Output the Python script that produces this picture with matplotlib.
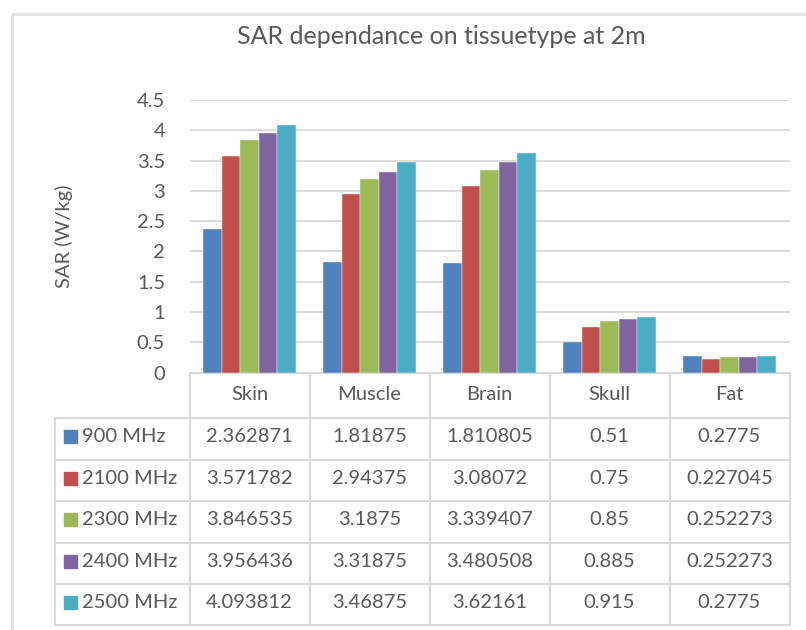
import matplotlib
matplotlib.use("Agg")
import matplotlib.pyplot as plt
import numpy as np
from matplotlib.patches import Rectangle

# ---- data ----
categories = ["Skin", "Muscle", "Brain", "Skull", "Fat"]
series_names = ["900 MHz", "2100 MHz", "2300 MHz", "2400 MHz", "2500 MHz"]
s900 = [2.362871, 1.81875, 1.810805, 0.51, 0.2775]
s2100 = [3.571782, 2.94375, 3.08072, 0.75, 0.227045]
s2300 = [3.846535, 3.1875, 3.339407, 0.85, 0.252273]
s2400 = [3.956436, 3.31875, 3.480508, 0.885, 0.252273]
s2500 = [4.093812, 3.46875, 3.62161, 0.915, 0.2775]
series_values = [s900, s2100, s2300, s2400, s2500]
table_text = [
    ["2.362871", "1.81875", "1.810805", "0.51", "0.2775"],
    ["3.571782", "2.94375", "3.08072", "0.75", "0.227045"],
    ["3.846535", "3.1875", "3.339407", "0.85", "0.252273"],
    ["3.956436", "3.31875", "3.480508", "0.885", "0.252273"],
    ["4.093812", "3.46875", "3.62161", "0.915", "0.2775"],
]
yticks = [0, 0.5, 1, 1.5, 2, 2.5, 3, 3.5, 4, 4.5]
ytick_labels = ["0", "0.5", "1", "1.5", "2", "2.5", "3", "3.5", "4", "4.5"]
title = "SAR dependance on tissuetype at 2m"
ylabel = "SAR (W/kg)"

colors = ["#4F81BD", "#C0504D", "#9BBB59", "#8064A2", "#4BACC6"]
text_color = "#595959"
grid_color = "#D9D9D9"
FONT = "Lato"
FS = 14.5

W, H = 806, 630
fig = plt.figure(figsize=(W / 100, H / 100), dpi=100)

# overlay in pixel coords (y from top)
ov = fig.add_axes([0, 0, 1, 1])
ov.set_xlim(0, W)
ov.set_ylim(H, 0)
ov.axis("off")
ov.add_patch(Rectangle((12, 14), W + 20, H + 20, fill=False, edgecolor="#E3E3E3", lw=2.2))

# bar axes
x0, x1, ytop, ybot = 189.5, 789.5, 100, 372.5
ax = fig.add_axes([x0 / W, (H - ybot) / H, (x1 - x0) / W, (ybot - ytop) / H])
ax.set_xlim(-0.5, len(categories) - 0.5)
ax.set_ylim(0, 4.5)
ax.patch.set_alpha(0)
for s in ax.spines.values():
    s.set_visible(False)
ax.set_yticks(yticks)
ax.set_yticklabels(ytick_labels, fontfamily=FONT, fontsize=FS, color=text_color)
ax.tick_params(axis="y", length=0, pad=17.6)
ax.set_xticks([])
ax.yaxis.grid(True, color=grid_color, lw=1.3)
ax.set_axisbelow(True)

x = np.arange(len(categories))
bw = 0.154
for i, (vals, c) in enumerate(zip(series_values, colors)):
    ax.bar(x + (i - 2) * bw, vals, width=bw, color=c, edgecolor="white", lw=0.3, zorder=3)

ax.set_ylabel(ylabel, fontfamily=FONT, fontsize=FS, color=text_color, labelpad=46)

fig.text(441 / W, 1 - 36 / H, title, ha="center", va="center",
         fontfamily=FONT, fontsize=18, color=text_color)

# ---- data table ----
def px(xd):
    return ax.transData.transform((xd, 0))[0]

col_edges = [px(i - 0.5) for i in range(len(categories) + 1)]
label_left = 55
row_edges = [373, 418, 459.5, 501, 542.5, 584, 625]
lc = "#D9D9D9"
lw = 1.4
# header row
ov.plot([col_edges[0], col_edges[-1]], [row_edges[0]] * 2, color=lc, lw=lw)
for e in col_edges:
    ov.plot([e, e], [row_edges[0], row_edges[-1]], color=lc, lw=lw)
for r in row_edges[1:]:
    ov.plot([label_left, col_edges[-1]], [r, r], color=lc, lw=lw)
ov.plot([label_left, label_left], [row_edges[1], row_edges[-1]], color=lc, lw=lw)

for j, cat in enumerate(categories):
    cx = (col_edges[j] + col_edges[j + 1]) / 2
    ov.text(cx, (row_edges[0] + row_edges[1]) / 2 - 1, cat, ha="center", va="center",
            fontfamily=FONT, fontsize=FS, color=text_color)

for i, name in enumerate(series_names):
    cy = (row_edges[i + 1] + row_edges[i + 2]) / 2 - 2
    ov.add_patch(Rectangle((64, cy - 6.5), 13, 13, color=colors[i]))
    ov.text(82, cy, name, ha="left", va="center", fontfamily=FONT, fontsize=FS, color=text_color)
    for j in range(len(categories)):
        cx = (col_edges[j] + col_edges[j + 1]) / 2
        ov.text(cx, cy, table_text[i][j], ha="center", va="center",
                fontfamily=FONT, fontsize=FS, color=text_color)

fig.savefig("out.png", dpi=100, facecolor="white")
